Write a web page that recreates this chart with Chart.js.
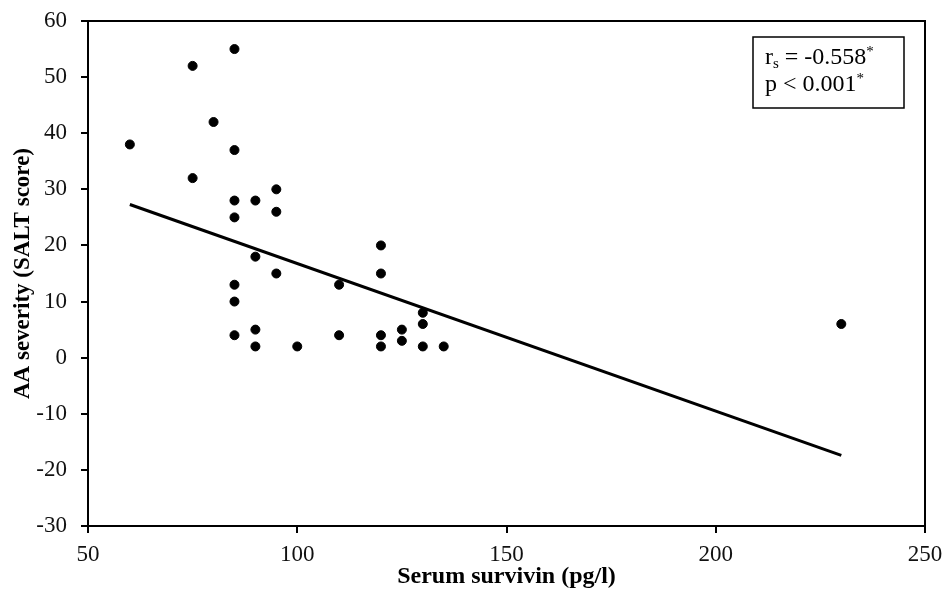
<!DOCTYPE html>
<html>
<head>
<meta charset="utf-8">
<script src="https://cdn.jsdelivr.net/npm/chart.js@4/dist/chart.umd.min.js"></script>
<style>
  html, body { margin: 0; padding: 0; background: #fff; }
</style>
</head>
<body>
<canvas id="survivinChart" width="944" height="597"></canvas>
<script>
// serum survivin (pg/l) vs SALT score, one entry per patient
const survivin = [60, 75, 75, 80, 85, 85, 85, 85, 85, 85, 85, 90, 90, 90, 90, 95, 95, 95, 100, 110, 110, 120, 120, 120, 120, 125, 125, 130, 130, 130, 135, 230];
const saltScore = [38, 52, 32, 42, 55, 37, 28, 25, 13, 10, 4, 28, 18, 5, 2, 30, 26, 15, 2, 13, 4, 20, 15, 4, 2, 5, 3, 8, 6, 2, 2, 6];

// regression line end points
const fitX = [60, 230];
const fitY = [27.3, -17.4];

const xTicks = [50, 100, 150, 200, 250];
const yTicks = [-30, -20, -10, 0, 10, 20, 30, 40, 50, 60];

const serif = '"Liberation Serif", "Times New Roman", serif';

const points = survivin.map((x, i) => ({ x: x, y: saltScore[i] }));
const fitLine = fitX.map((x, i) => ({ x: x, y: fitY[i] }));

// frame on top/right and the stats box
const framePlugin = {
    id: 'frame',
    afterDraw(chart) {
        const { ctx, chartArea } = chart;
        ctx.save();
        ctx.strokeStyle = '#000';
        ctx.lineWidth = 2;
        ctx.beginPath();
        ctx.moveTo(chartArea.left, chartArea.top);
        ctx.lineTo(chartArea.right, chartArea.top);
        ctx.lineTo(chartArea.right, chartArea.bottom);
        ctx.stroke();

        // stats box
        ctx.lineWidth = 1.5;
        ctx.strokeRect(753, 37, 151, 71);
        ctx.fillStyle = '#000';
        ctx.textBaseline = 'alphabetic';
        let x = 765;
        ctx.font = '24px ' + serif;
        ctx.fillText('r', x, 64);
        x += ctx.measureText('r').width;
        ctx.font = '15px ' + serif;
        ctx.fillText('s', x, 68);
        x += ctx.measureText('s').width;
        ctx.font = '24px ' + serif;
        ctx.fillText(' = -0.558', x, 64);
        x += ctx.measureText(' = -0.558').width;
        ctx.font = '15px ' + serif;
        ctx.fillText('*', x, 56);

        x = 765;
        ctx.font = '24px ' + serif;
        ctx.fillText('p < 0.001', x, 91);
        x += ctx.measureText('p < 0.001').width;
        ctx.font = '15px ' + serif;
        ctx.fillText('*', x, 83);
        ctx.restore();
    }
};

const ctx = document.getElementById('survivinChart').getContext('2d');
const survivinChart = new Chart(ctx, {
    type: 'scatter',
    data: {
        datasets: [{
            label: 'Patients',
            data: points,
            backgroundColor: '#000',
            borderColor: '#000',
            pointRadius: 4.5,
            pointHoverRadius: 4.5
        }, {
            type: 'line',
            label: 'Fit',
            data: fitLine,
            borderColor: '#000',
            borderWidth: 3,
            pointRadius: 0,
            fill: false
        }]
    },
    options: {
        responsive: false,
        animation: false,
        devicePixelRatio: 1,
        layout: { padding: { top: 21, right: 19, left: 0, bottom: 0 } },
        plugins: {
            legend: { display: false },
            tooltip: { enabled: false }
        },
        scales: {
            x: {
                type: 'linear',
                min: 50,
                max: 250,
                afterBuildTicks: (axis) => { axis.ticks = xTicks.map(v => ({ value: v })); },
                afterFit: (axis) => {
                    axis.height = 71;
                    axis.paddingLeft = 0;
                    axis.paddingRight = 0;
                },
                grid: { drawOnChartArea: false, drawTicks: true, tickLength: 7, color: '#000', lineWidth: 2 },
                border: { display: true, color: '#000', width: 2 },
                ticks: { color: '#111', padding: 8, font: { family: serif, size: 23 } },
                title: {
                    display: true,
                    text: 'Serum survivin (pg/l)',
                    color: '#000',
                    font: { family: serif, size: 24, weight: 'bold' },
                    padding: { top: 0, bottom: 6 }
                }
            },
            y: {
                type: 'linear',
                min: -30,
                max: 60,
                afterBuildTicks: (axis) => { axis.ticks = yTicks.map(v => ({ value: v })); },
                afterFit: (axis) => {
                    axis.width = 88;
                    axis.paddingTop = 0;
                    axis.paddingBottom = 0;
                },
                grid: { drawOnChartArea: false, drawTicks: true, tickLength: 7, color: '#000', lineWidth: 2 },
                border: { display: true, color: '#000', width: 2 },
                ticks: { color: '#111', padding: 14, font: { family: serif, size: 23 } },
                title: {
                    display: true,
                    text: 'AA severity (SALT score)',
                    color: '#000',
                    font: { family: serif, size: 23, weight: 'bold' },
                    padding: { top: 9, bottom: 0 }
                }
            }
        }
    },
    plugins: [framePlugin]
});
</script>
</body>
</html>
